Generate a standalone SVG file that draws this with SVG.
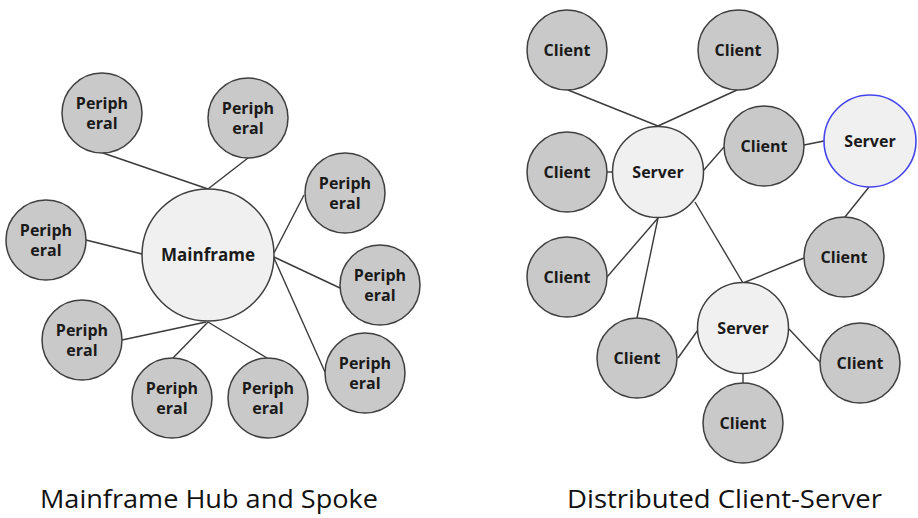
<svg xmlns="http://www.w3.org/2000/svg" width="918" height="518" viewBox="0 0 918 518">
<style>
.p{fill:#c9c9c9;stroke:#3f3f3f;stroke-width:1.5}
.s{fill:#f0f0f0;stroke:#3f3f3f;stroke-width:1.5}
.b{fill:#f0f0f0;stroke:#4545ee;stroke-width:1.6}
.t{font-family:"Open Sans","Liberation Sans",sans-serif;font-weight:bold;font-size:16px;fill:#1a1a1a;text-anchor:middle}
.cap{font-family:"Open Sans","Liberation Sans",sans-serif;font-size:26px;fill:#111}
#conn line{stroke:#3a3a3a;stroke-width:1.4}
</style>
<rect width="918" height="518" fill="#fff"/>
<g id="conn">
<line x1="103" y1="153" x2="208" y2="189"/>
<line x1="248" y1="158" x2="208" y2="189"/>
<line x1="304" y1="195" x2="274" y2="253"/>
<line x1="86" y1="240" x2="142" y2="254"/>
<line x1="274" y1="257" x2="340" y2="288"/>
<line x1="274" y1="258" x2="325" y2="372"/>
<line x1="122" y1="340" x2="206" y2="322"/>
<line x1="173" y1="358" x2="208" y2="322"/>
<line x1="267" y1="358" x2="208" y2="322"/>
<line x1="568" y1="90" x2="658" y2="126"/>
<line x1="737" y1="90" x2="658" y2="126"/>
<line x1="607" y1="172" x2="613" y2="172"/>
<line x1="703" y1="171" x2="724" y2="147"/>
<line x1="804" y1="145" x2="824" y2="141"/>
<line x1="869" y1="187" x2="845" y2="217"/>
<line x1="658" y1="218" x2="607" y2="277"/>
<line x1="658" y1="218" x2="637" y2="318"/>
<line x1="695" y1="202" x2="743" y2="283"/>
<line x1="743" y1="283" x2="804" y2="258"/>
<line x1="698" y1="330" x2="678" y2="358"/>
<line x1="789" y1="329" x2="820" y2="362"/>
<line x1="743" y1="374" x2="743" y2="384"/>
</g>
<g id="mainframe"><circle class="s" cx="208" cy="255" r="66"/><text class="t" x="208" y="261" style="font-size:17px">Mainframe</text></g>
<g id="per1"><circle class="p" cx="102" cy="113" r="40"/><text class="t" x="102" y="109">Periph</text><text class="t" x="102" y="129">eral</text></g>
<g id="per2"><circle class="p" cx="248" cy="118" r="40"/><text class="t" x="248" y="114">Periph</text><text class="t" x="248" y="134">eral</text></g>
<g id="per3"><circle class="p" cx="345" cy="193" r="40"/><text class="t" x="345" y="189">Periph</text><text class="t" x="345" y="209">eral</text></g>
<g id="per4"><circle class="p" cx="46" cy="240" r="40"/><text class="t" x="46" y="236">Periph</text><text class="t" x="46" y="256">eral</text></g>
<g id="per5"><circle class="p" cx="380" cy="285" r="40"/><text class="t" x="380" y="281">Periph</text><text class="t" x="380" y="301">eral</text></g>
<g id="per6"><circle class="p" cx="82" cy="340" r="40"/><text class="t" x="82" y="336">Periph</text><text class="t" x="82" y="356">eral</text></g>
<g id="per7"><circle class="p" cx="172" cy="398" r="40"/><text class="t" x="172" y="394">Periph</text><text class="t" x="172" y="414">eral</text></g>
<g id="per8"><circle class="p" cx="268" cy="398" r="40"/><text class="t" x="268" y="394">Periph</text><text class="t" x="268" y="414">eral</text></g>
<g id="per9"><circle class="p" cx="365" cy="373" r="40"/><text class="t" x="365" y="369">Periph</text><text class="t" x="365" y="389">eral</text></g>
<g id="server1"><circle class="s" cx="658" cy="172" r="45.5"/><text class="t" x="658" y="178">Server</text></g>
<g id="server2"><circle class="b" cx="870" cy="141" r="46"/><text class="t" x="870" y="147">Server</text></g>
<g id="server3"><circle class="s" cx="743" cy="328" r="45.5"/><text class="t" x="743" y="334">Server</text></g>
<g id="client1"><circle class="p" cx="567" cy="50" r="40"/><text class="t" x="567" y="56">Client</text></g>
<g id="client2"><circle class="p" cx="738" cy="50" r="40"/><text class="t" x="738" y="56">Client</text></g>
<g id="client3"><circle class="p" cx="567" cy="172" r="40"/><text class="t" x="567" y="178">Client</text></g>
<g id="client4"><circle class="p" cx="764" cy="146" r="40"/><text class="t" x="764" y="152">Client</text></g>
<g id="client5"><circle class="p" cx="567" cy="277" r="40"/><text class="t" x="567" y="283">Client</text></g>
<g id="client6"><circle class="p" cx="844" cy="257" r="40"/><text class="t" x="844" y="263">Client</text></g>
<g id="client7"><circle class="p" cx="637" cy="358" r="40"/><text class="t" x="637" y="364">Client</text></g>
<g id="client8"><circle class="p" cx="860" cy="363" r="40"/><text class="t" x="860" y="369">Client</text></g>
<g id="client9"><circle class="p" cx="743" cy="423" r="40"/><text class="t" x="743" y="429">Client</text></g>
<text class="cap" x="40" y="508" textLength="338" lengthAdjust="spacingAndGlyphs">Mainframe Hub and Spoke</text>
<text class="cap" x="567" y="508" textLength="315" lengthAdjust="spacingAndGlyphs">Distributed Client-Server</text>
</svg>
